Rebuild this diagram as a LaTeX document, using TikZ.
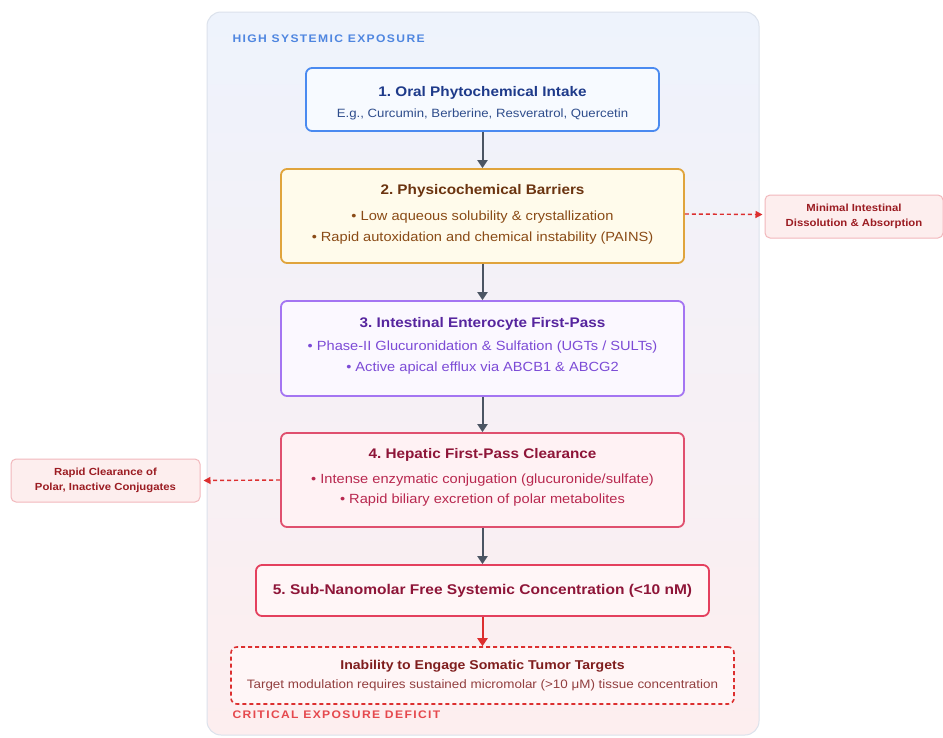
\documentclass[tikz,border=0pt]{standalone}
\usepackage{fontspec}
\setmainfont[FakeStretch=1.1]{Liberation Sans}
\usetikzlibrary{arrows.meta}
\frenchspacing
% extra depth below the last line lifts the text of a box
\newcommand{\liftby}[1]{\rule[-#1]{0pt}{0pt}}

\definecolor{panelTop}{HTML}{EEF3FC}
\definecolor{panelBot}{HTML}{FDEEEF}
\definecolor{panelLine}{HTML}{DCE2EC}
\definecolor{headBlue}{HTML}{4F86E0}
\definecolor{headRed}{HTML}{E5484D}
\definecolor{arrowGray}{HTML}{4B5563}
\definecolor{oralLine}{HTML}{4A8AF0}
\definecolor{oralFill}{HTML}{F7FAFF}
\definecolor{oralTitle}{HTML}{1E3A8A}
\definecolor{oralText}{HTML}{2F4D8C}
\definecolor{barLine}{HTML}{E0A43C}
\definecolor{barFill}{HTML}{FFFBEB}
\definecolor{barTitle}{HTML}{6B3410}
\definecolor{barText}{HTML}{8A4B16}
\definecolor{entLine}{HTML}{A475F2}
\definecolor{entFill}{HTML}{FBF8FF}
\definecolor{entTitle}{HTML}{56259E}
\definecolor{entText}{HTML}{7C4BD6}
\definecolor{hepLine}{HTML}{E0506E}
\definecolor{hepFill}{HTML}{FFF2F4}
\definecolor{hepTitle}{HTML}{8E1538}
\definecolor{hepText}{HTML}{B8284F}
\definecolor{concLine}{HTML}{E4405E}
\definecolor{concFill}{HTML}{FFF6F7}
\definecolor{deficitRed}{HTML}{DC2F2F}
\definecolor{deficitText}{HTML}{7F1D1D}
\definecolor{sideFill}{HTML}{FDEEEE}
\definecolor{sideLine}{HTML}{F2B8BC}
\definecolor{sideText}{HTML}{9B1C22}

\begin{document}
\begin{tikzpicture}[x=1pt,y=-1pt,
	stage/.style={draw, line width=1.8pt, rounded corners=6pt, align=center, inner sep=0pt},
	flow/.style={-{Triangle[length=8pt,width=10pt]}, line width=2pt, draw=arrowGray},
	lost/.style={-{Triangle[length=7pt,width=7pt]}, line width=1.4pt, draw=deficitRed, dash pattern=on 4pt off 3pt},
	sidebox/.style={draw=sideLine, fill=sideFill, line width=1pt, rounded corners=5pt, align=center, inner sep=0pt,
		minimum height=43pt, font=\fontsize{10.3}{14.5}\selectfont\bfseries, text=sideText},
	head/.style={anchor=west, font=\fontsize{11}{13}\selectfont\bfseries\addfontfeature{LetterSpace=12.5}},
	body/.style={font=\fontsize{13.3}{21}\selectfont}
]
\useasboundingbox (0,0) rectangle (943,737);
\fill[white] (0,0) rectangle (943,737);

% outer panel
\draw[rounded corners=14pt, draw=panelLine, line width=1pt, top color=panelTop, bottom color=panelBot]
	(207,12) rectangle (759,735);
\node[head, text=headBlue] (high) at (229,39) {HIGH SYSTEMIC EXPOSURE};
\node[head, text=headRed] (crit) at (229,715) {CRITICAL EXPOSURE DEFICIT};

% stages
\node[stage, draw=oralLine, fill=oralFill, minimum width=353pt, minimum height=63pt,
	font=\fontsize{12}{14}\selectfont] (oral) at (482.5,99.5)
	{\rule{0pt}{18pt}{\fontsize{13.9}{16}\selectfont\bfseries\color{oralTitle}1. Oral Phytochemical Intake}\\[7pt]
	 \color{oralText}E.g., Curcumin, Berberine, Resveratrol, Quercetin};
\node[stage, draw=barLine, fill=barFill, minimum width=403pt, minimum height=94pt, body] (barrier) at (482.5,216)
	{{\fontsize{13.9}{16}\selectfont\bfseries\color{barTitle}2. Physicochemical Barriers}\\[5pt]
	 \color{barText}• Low aqueous solubility \& crystallization\\
	 \color{barText}• Rapid autoxidation and chemical instability (PAINS)\liftby{6pt}};
\node[stage, draw=entLine, fill=entFill, minimum width=403pt, minimum height=95pt, body] (entero) at (482.5,348.5)
	{{\fontsize{13.9}{16}\selectfont\bfseries\color{entTitle}3. Intestinal Enterocyte First-Pass}\\[2pt]
	 \color{entText}• Phase-II Glucuronidation \& Sulfation (UGTs / SULTs)\\
	 \color{entText}• Active apical efflux via ABCB1 \& ABCG2\liftby{8pt}};
\node[stage, draw=hepLine, fill=hepFill, minimum width=403pt, minimum height=94pt, body] (hepatic) at (482.5,480)
	{{\fontsize{13.9}{16}\selectfont\bfseries\color{hepTitle}4. Hepatic First-Pass Clearance}\\[4pt]
	 \color{hepText}• Intense enzymatic conjugation (glucuronide/sulfate)\\[-1pt]
	 \color{hepText}• Rapid biliary excretion of polar metabolites\liftby{8pt}};
\node[stage, draw=concLine, fill=concFill, minimum width=453pt, minimum height=51pt,
	font=\fontsize{14.1}{16}\selectfont\bfseries, text=hepTitle] (conc) at (482.5,590.5)
	{5. Sub-Nanomolar Free Systemic Concentration (<10 nM)};
\node[stage, draw=deficitRed, fill=concFill, line width=1.6pt, dash pattern=on 4pt off 3pt,
	minimum width=503pt, minimum height=57pt, font=\fontsize{12.2}{19}\selectfont, text=deficitText] (deficit) at (482.5,675.5)
	{{\fontsize{12.8}{15}\selectfont\bfseries Inability to Engage Somatic Tumor Targets}\\
	 \color{deficitText!85}Target modulation requires sustained micromolar (>10 μM) tissue concentration};

% side outcomes
\node[sidebox, minimum width=178pt] (dissol) at (854,216.5) {Minimal Intestinal\\Dissolution \& Absorption};
\node[sidebox, minimum width=189pt] (polar) at (105.5,480.5) {Rapid Clearance of\\Polar, Inactive Conjugates};

% connectors
\draw[flow] (oral) -- (barrier);
\draw[flow] (barrier) -- (entero);
\draw[flow] (entero) -- (hepatic);
\draw[flow] (hepatic) -- (conc);
\draw[flow, draw=deficitRed] (conc) -- (deficit);
\draw[lost] ([yshift=2pt]barrier.east) -- ([xshift=-2pt,yshift=2pt]dissol.west);
\draw[lost] (hepatic.west) -- ([xshift=3pt]polar.east);
\end{tikzpicture}
\end{document}
